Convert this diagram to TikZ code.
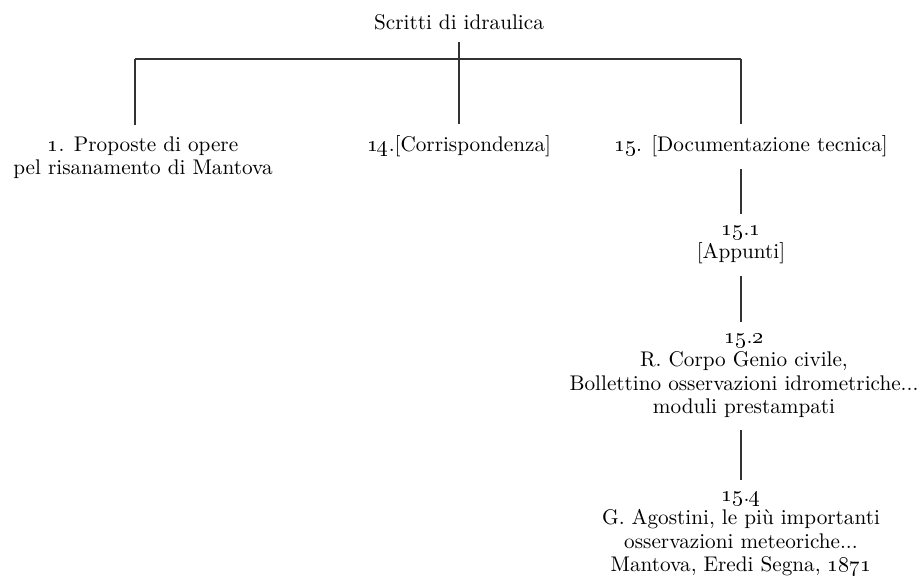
\documentclass[tikz,border=0pt]{standalone}
\usetikzlibrary{positioning}
\tikzset{
	voce/.style={align=center, inner xsep=0pt, inner ysep=1pt, outer sep=5pt, font=\fontsize{10.6}{11.8}\selectfont},
	ramo/.style={draw=black!80, line width=0.55pt}
}
\begin{document}
\begin{tikzpicture}[x=0.5pt, y=-0.5pt]
		\useasboundingbox (0,0) rectangle (921,581);
		% anchor=base e' la linea di base dell'ultima riga
		\node[voce, anchor=base] (fondo) at (459,30) {Scritti di idraulica};
		\node[voce, anchor=base] (serie1) at (143,175) {\oldstylenums{1}. Proposte di opere\\pel risanamento di Mantova};
		\node[voce, anchor=base] (serie14) at (459,152) {\oldstylenums{14}.[Corrispondenza]};
		\node[voce, anchor=base] (serie15) at (751,152) {\oldstylenums{15}. [Documentazione tecnica]};
		\node[voce, anchor=base] (sotto1) at (741,259) {\oldstylenums{15}.\oldstylenums{1}\\{}[Appunti]};
		\node[voce, anchor=base] (sotto2) at (744,414) {\oldstylenums{15}.\oldstylenums{2}\\R. Corpo Genio civile,\\Bollettino osservazioni idrometriche...\\moduli prestampati};
		\node[voce, anchor=base] (sotto4) at (741,572) {\oldstylenums{15}.\oldstylenums{4}\\G. Agostini, le più importanti\\osservazioni meteoriche...\\Mantova, Eredi Segna, \oldstylenums{1871}};
		\coordinate (sbarraS) at (135,59);
		\coordinate (sbarraD) at (741,59);
		\draw[ramo] (sbarraS) -- (sbarraD);
		\draw[ramo] (fondo.south) -- (serie14.north);
		\draw[ramo] (sbarraS) -- (sbarraS |- serie1.north);
		\draw[ramo] (sbarraD) -- (sbarraD |- serie15.north);
		\draw[ramo] (sbarraD |- serie15.south) -- (sbarraD |- sotto1.north);
		\draw[ramo] (sbarraD |- sotto1.south) -- (sbarraD |- sotto2.north);
		\draw[ramo] (sbarraD |- sotto2.south) -- (sbarraD |- sotto4.north);
\end{tikzpicture}
\end{document}
